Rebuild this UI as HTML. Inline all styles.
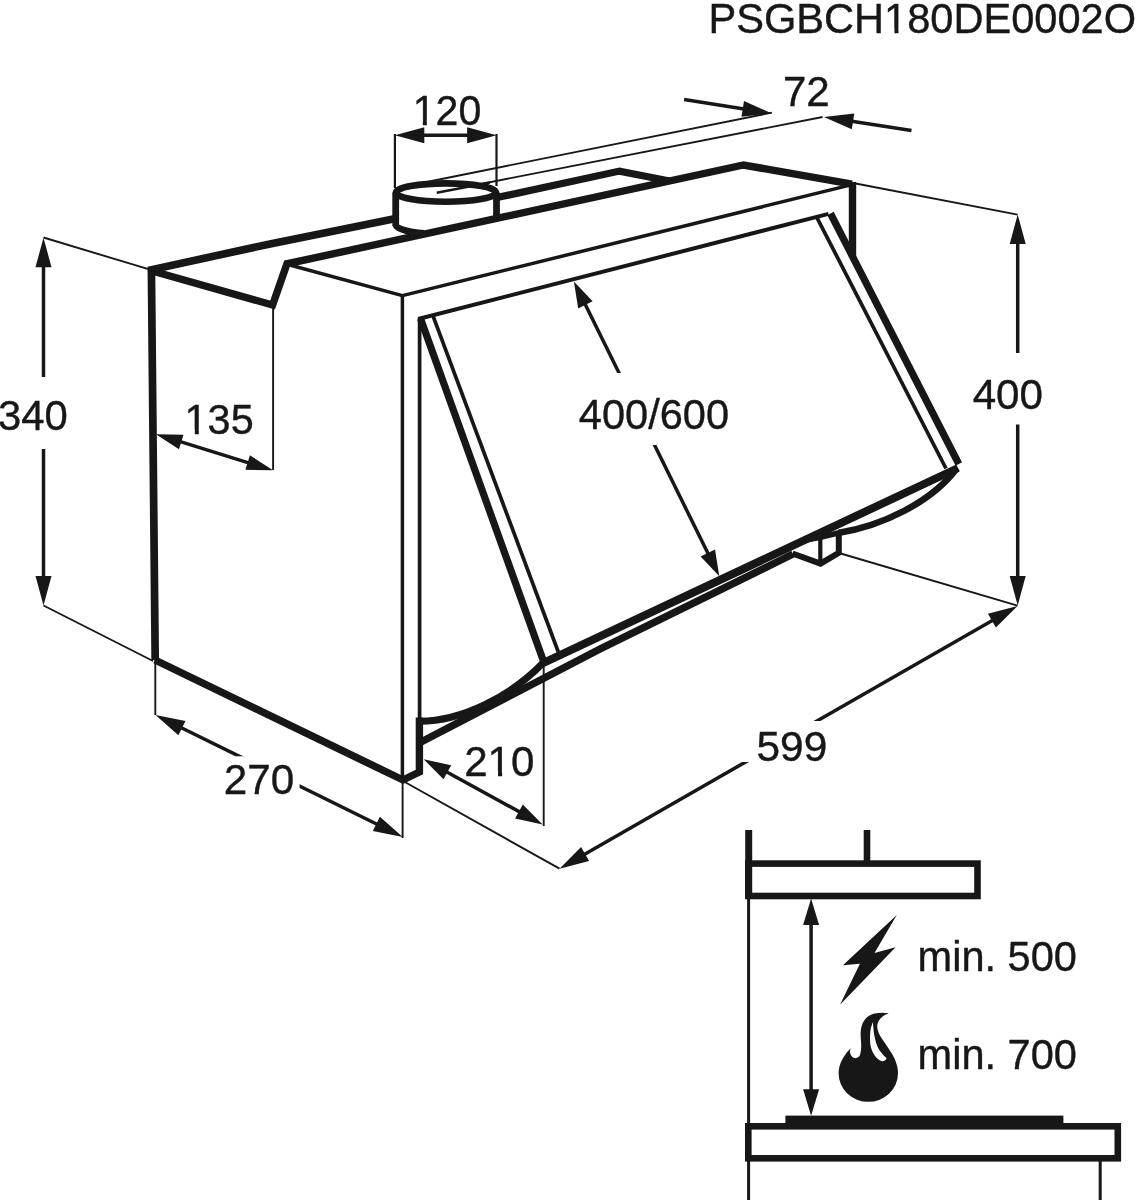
<!DOCTYPE html>
<html><head><meta charset="utf-8"><title>PSGBCH180DE0002O</title>
<style>
html,body{margin:0;padding:0;background:#fff;}
body{width:1138px;height:1200px;overflow:hidden;font-family:"Liberation Sans",sans-serif;}
svg{display:block;filter:grayscale(1);}
svg text{font-family:"Liberation Sans",sans-serif;}
</style></head><body>
<svg width="1138" height="1200" viewBox="0 0 1138 1200" stroke="#171717" fill="none">
<rect x="0" y="0" width="1138" height="1200" fill="#fff" stroke="none"/>
<line x1="43.5" y1="237.5" x2="148.5" y2="269.2" stroke-width="1.9" stroke-linecap="butt"/>
<line x1="43.5" y1="605.5" x2="153" y2="661" stroke-width="1.9" stroke-linecap="butt"/>
<line x1="155.3" y1="660" x2="155.3" y2="715" stroke-width="1.9" stroke-linecap="butt"/>
<line x1="402.6" y1="779" x2="402.6" y2="838" stroke-width="1.9" stroke-linecap="butt"/>
<line x1="403" y1="781" x2="559.5" y2="868.7" stroke-width="1.9" stroke-linecap="butt"/>
<line x1="543.7" y1="662" x2="543.7" y2="826" stroke-width="1.9" stroke-linecap="butt"/>
<line x1="839" y1="553" x2="1017.5" y2="605.6" stroke-width="1.9" stroke-linecap="butt"/>
<line x1="853" y1="183" x2="1017.5" y2="214.6" stroke-width="1.9" stroke-linecap="butt"/>
<line x1="273.1" y1="305" x2="273.1" y2="470" stroke-width="1.9" stroke-linecap="butt"/>
<line x1="394.9" y1="134" x2="394.9" y2="188" stroke-width="2.2" stroke-linecap="butt"/>
<line x1="496.5" y1="134" x2="496.5" y2="186" stroke-width="2.2" stroke-linecap="butt"/>
<line x1="428" y1="181.7" x2="771.9" y2="112.6" stroke-width="1.9" stroke-linecap="butt"/>
<line x1="436.7" y1="192.6" x2="822.6" y2="117.0" stroke-width="1.9" stroke-linecap="butt"/>
<line x1="288" y1="264.5" x2="402.4" y2="295.6" stroke-width="3.5" stroke-linecap="butt"/>
<line x1="402.4" y1="295.6" x2="852" y2="184.6" stroke-width="3.5" stroke-linecap="butt"/>
<line x1="402.4" y1="294.5" x2="402.4" y2="780" stroke-width="3.5" stroke-linecap="butt"/>
<line x1="419.6" y1="318" x2="419.6" y2="720" stroke-width="3.7" stroke-linecap="butt"/>
<line x1="418.2" y1="319" x2="828.5" y2="213.9" stroke-width="4" stroke-linecap="butt"/>
<line x1="433.3" y1="316.7" x2="558.3" y2="652" stroke-width="3.7" stroke-linecap="butt"/>
<line x1="816.8" y1="217.3" x2="946" y2="468.5" stroke-width="3.7" stroke-linecap="butt"/>
<line x1="420.5" y1="318.5" x2="543.8" y2="662" stroke-width="7.2" stroke-linecap="butt"/>
<line x1="830.5" y1="213.5" x2="958.8" y2="464" stroke-width="7.2" stroke-linecap="butt"/>
<line x1="543" y1="663.2" x2="958" y2="468" stroke-width="8" stroke-linecap="butt"/>
<path d="M421,742 L600,649 L793,554" stroke-width="7.4" stroke-linejoin="round" fill="none"/>
<path d="M419.5,721.3 C462,721 510,697 543.5,662.5" stroke-width="7" fill="none" />
<path d="M957,468 C932,502 882,526 838,533" stroke-width="6.5" fill="none" />
<path d="M792.5,553.5 L820.5,563.6 L838.8,552.8 L838.8,531" stroke-width="6" stroke-linejoin="miter" fill="none"/>
<line x1="820.3" y1="563.5" x2="820.3" y2="537.5" stroke-width="4.2" stroke-linecap="butt"/>
<path d="M806,540 L820.5,537.3 L838,533" stroke-width="5.5" fill="none" />
<path d="M155.2,660 L151.4,269.8 L270,243.9 L397,218.3" stroke-width="7.7" stroke-linejoin="miter" fill="none"/>
<path d="M497,197.6 L619.5,171.1 L669.6,181" stroke-width="7.2" stroke-linejoin="miter" fill="none"/>
<path d="M154,271.5 L272.6,305 L287,263.8 L743.5,165 L852,184.2" stroke-width="7.4" stroke-linejoin="miter" fill="none"/>
<line x1="852.5" y1="182" x2="852.5" y2="257" stroke-width="7.4" stroke-linecap="butt"/>
<path d="M155,660 L403,780 L419.4,772 L419.4,717.5" stroke-width="7.4" stroke-linejoin="miter" fill="none"/>
<ellipse cx="446" cy="192.6" rx="50" ry="9.2" fill="#fff" stroke-width="6.6"/>
<line x1="395.7" y1="192.6" x2="395.7" y2="226" stroke-width="6.8" stroke-linecap="butt"/>
<line x1="496.5" y1="192.6" x2="496.5" y2="216" stroke-width="6.8" stroke-linecap="butt"/>
<path d="M396,225 A50,9.2 0 0 0 424,233.3" stroke-width="6.6" fill="none" />
<line x1="436.7" y1="192.8" x2="490" y2="182.5" stroke-width="2.4" stroke-linecap="butt"/>
<polygon points="43.5,237.7 51.5,267.2 35.5,267.2" fill="#171717" stroke="none"/>
<polygon points="43.5,605.5 35.5,576.0 51.5,576.0" fill="#171717" stroke="none"/>
<line x1="43.5" y1="264.2" x2="43.5" y2="377" stroke-width="3.5" stroke-linecap="butt"/>
<line x1="43.5" y1="449" x2="43.5" y2="579.0" stroke-width="3.5" stroke-linecap="butt"/>
<polygon points="1017.7,214.6 1025.7,244.1 1009.7,244.1" fill="#171717" stroke="none"/>
<polygon points="1017.7,605.6 1009.7,576.1 1025.7,576.1" fill="#171717" stroke="none"/>
<line x1="1017.7" y1="241.2" x2="1017.7" y2="353" stroke-width="3.5" stroke-linecap="butt"/>
<line x1="1017.7" y1="424.5" x2="1017.7" y2="579.1" stroke-width="3.5" stroke-linecap="butt"/>
<polygon points="394.8,135.2 424.3,127.2 424.3,143.2" fill="#171717" stroke="none"/>
<polygon points="496.6,135.2 467.1,143.2 467.1,127.2" fill="#171717" stroke="none"/>
<line x1="421.4" y1="135.2" x2="470.1" y2="135.2" stroke-width="3.5" stroke-linecap="butt"/>
<polygon points="155.9,434.2 183.5,434.7 179.0,449.3" fill="#171717" stroke="none"/>
<polygon points="273.0,470.3 245.4,469.8 249.9,455.2" fill="#171717" stroke="none"/>
<line x1="178.7" y1="441.2" x2="250.2" y2="463.3" stroke-width="3.5" stroke-linecap="butt"/>
<polygon points="155.5,715.0 185.5,720.9 178.4,735.2" fill="#171717" stroke="none"/>
<polygon points="402.8,837.0 372.8,831.1 379.9,816.8" fill="#171717" stroke="none"/>
<line x1="179.3" y1="726.7" x2="379.0" y2="825.3" stroke-width="3.5" stroke-linecap="butt"/>
<rect x="215" y="756.3" width="84.6" height="45" fill="#fff" stroke="none"/>
<polygon points="423.7,759.3 451.2,765.3 443.5,779.3" fill="#171717" stroke="none"/>
<polygon points="542.6,824.6 515.1,818.6 522.8,804.6" fill="#171717" stroke="none"/>
<line x1="445.0" y1="771.0" x2="521.3" y2="812.9" stroke-width="3.5" stroke-linecap="butt"/>
<polygon points="559.5,868.7 581.1,847.1 589.1,861.0" fill="#171717" stroke="none"/>
<polygon points="1017.5,606.0 995.9,627.6 987.9,613.7" fill="#171717" stroke="none"/>
<line x1="582.5" y1="855.5" x2="994.5" y2="619.2" stroke-width="3.5" stroke-linecap="butt"/>
<rect x="740" y="721" width="95" height="41" fill="#fff" stroke="none"/>
<polygon points="573.9,281.5 592.6,301.3 578.2,308.4" fill="#171717" stroke="none"/>
<polygon points="719.3,576.3 700.6,556.5 715.0,549.4" fill="#171717" stroke="none"/>
<line x1="584.3" y1="302.5" x2="708.9" y2="555.3" stroke-width="3.5" stroke-linecap="butt"/>
<rect x="575" y="373" width="160" height="72" fill="#fff" stroke="none"/>
<polygon points="771.9,113.5 741.5,116.8 744.0,101.0" fill="#171717" stroke="none"/>
<line x1="684.1" y1="99.5" x2="745.7" y2="109.3" stroke-width="3.5" stroke-linecap="butt"/>
<polygon points="823.9,116.9 854.3,113.5 851.8,129.3" fill="#171717" stroke="none"/>
<line x1="850.1" y1="121.0" x2="911.5" y2="130.5" stroke-width="3.5" stroke-linecap="butt"/>
<text transform="translate(-1.99,429.5) scale(0.985,1)" font-size="42.5" fill="#171717" stroke="#171717" stroke-width="0.4">340</text>
<text transform="translate(184.55,434.0) scale(0.976,1)" font-size="42.5" fill="#171717" stroke="#171717" stroke-width="0.4">135</text>
<rect x="186.37" y="429.52" width="8.41" height="5.98" fill="#fff" stroke="none"/>
<rect x="198.84" y="429.52" width="7.98" height="5.98" fill="#fff" stroke="none"/>
<text transform="translate(223.69,793.6) scale(0.994,1)" font-size="42.5" fill="#171717" stroke="#171717" stroke-width="0.4">270</text>
<text transform="translate(464.19,775.7) scale(0.991,1)" font-size="42.5" fill="#171717" stroke="#171717" stroke-width="0.4">210</text>
<rect x="489.47" y="771.22" width="8.54" height="5.98" fill="#fff" stroke="none"/>
<rect x="502.13" y="771.22" width="8.11" height="5.98" fill="#fff" stroke="none"/>
<text transform="translate(412.68,124.9) scale(0.967,1)" font-size="42.5" fill="#171717" stroke="#171717" stroke-width="0.4">120</text>
<rect x="414.48" y="120.42" width="8.33" height="5.98" fill="#fff" stroke="none"/>
<rect x="426.84" y="120.42" width="7.91" height="5.98" fill="#fff" stroke="none"/>
<text transform="translate(782.95,106.3) scale(0.991,1)" font-size="42.5" fill="#171717" stroke="#171717" stroke-width="0.4">72</text>
<text transform="translate(578.74,429.2) scale(0.979,1)" font-size="42.5" fill="#171717" stroke="#171717" stroke-width="0.4">400/600</text>
<text transform="translate(756.50,760.8) scale(0.998,1)" font-size="42.5" fill="#171717" stroke="#171717" stroke-width="0.4">599</text>
<text transform="translate(972.63,409.2) scale(0.992,1)" font-size="42.5" fill="#171717" stroke="#171717" stroke-width="0.4">400</text>
<text transform="translate(708.49,33.0) scale(0.9787,1)" font-size="42.5" fill="#171717" stroke="#171717" stroke-width="0.4">PSGBCH180DE0002O</text>
<rect x="885.98" y="28.52" width="8.43" height="5.98" fill="#fff" stroke="none"/>
<rect x="898.49" y="28.52" width="8.01" height="5.98" fill="#fff" stroke="none"/>
<text transform="translate(917.56,971.2) scale(0.978,1)" font-size="42.5" fill="#171717" stroke="#171717" stroke-width="0.4">min. 500</text>
<text transform="translate(917.56,1068.7) scale(0.978,1)" font-size="42.5" fill="#171717" stroke="#171717" stroke-width="0.4">min. 700</text>
<line x1="748.6" y1="830" x2="748.6" y2="1200" stroke-width="3" stroke-linecap="butt"/>
<line x1="748.7" y1="830" x2="748.7" y2="898" stroke-width="7" stroke-linecap="butt"/>
<line x1="867" y1="830" x2="867" y2="862" stroke-width="6.6" stroke-linecap="butt"/>
<rect x="748.3" y="863.6" width="229.2" height="32.4" stroke-width="6.6" fill="none"/>
<rect x="785.4" y="1115.6" width="278" height="9" fill="#171717" stroke="none"/>
<rect x="748.3" y="1126.3" width="369.5" height="32" stroke-width="6.6" fill="none"/>
<line x1="1100.2" y1="1160" x2="1100.2" y2="1200" stroke-width="3" stroke-linecap="butt"/>
<polygon points="811.1,898.6 819.1,925.1 803.1,925.1" fill="#171717" stroke="none"/>
<polygon points="811.1,1115.8 803.1,1089.3 819.1,1089.3" fill="#171717" stroke="none"/>
<line x1="811.1" y1="922.5" x2="811.1" y2="1092.0" stroke-width="3.5" stroke-linecap="butt"/>
<polygon points="896.8,915.1 874.5,953 895.6,947.2 840,1004.8 859.9,963.7 842.9,965.3" fill="#171717" stroke="none"/>
<path d="M888.7,1013.2 C881.5,1015.8 877,1021 877.2,1026.6 C877.4,1031.5 879.8,1035.5 881.8,1038.5 C884.2,1042 886.6,1045.5 889.2,1049.5 C892,1053.6 894.3,1057.5 895.7,1061.4 C897.2,1065.2 898,1069.2 898,1073.3 A29.7,28.5 0 0 1 838.6,1073.3 C838.6,1068.3 840,1063.5 842.4,1059.3 C844.6,1055 847.5,1051 851.2,1048 C849.8,1050 849.6,1051.8 850.2,1053.2 C851,1056 853,1058.2 855.2,1058.2 C857.8,1058.2 859.8,1056.5 860.3,1054.1 C861,1051 861.3,1047.5 861.2,1044 C861,1040 860.4,1036 860.7,1032.1 C861,1027.5 862,1023.5 864.4,1020.2 C866.8,1016.8 870.3,1014.6 874.5,1013.6 C879,1012.5 884,1012.4 888.7,1013.2 Z M873.1,1021.8 C871.6,1025 870.6,1028.5 870.3,1032.1 C869.9,1036 869.9,1040 870.3,1044 C870.9,1048 872.2,1052 874.4,1055 C876.4,1058 879,1060.5 881.8,1061.2 C883.9,1061.5 885.8,1060.3 886.6,1058.2 C884.2,1056.3 882,1053.8 880.2,1051.3 C877.8,1047.8 876.2,1043.6 875.2,1039.4 C874.2,1035.5 873.5,1031.5 873.3,1027.5 C873.1,1025.7 873,1023.8 873.1,1021.8 Z" fill="#171717" stroke="none" fill-rule="evenodd"/>
</svg>
</body></html>
